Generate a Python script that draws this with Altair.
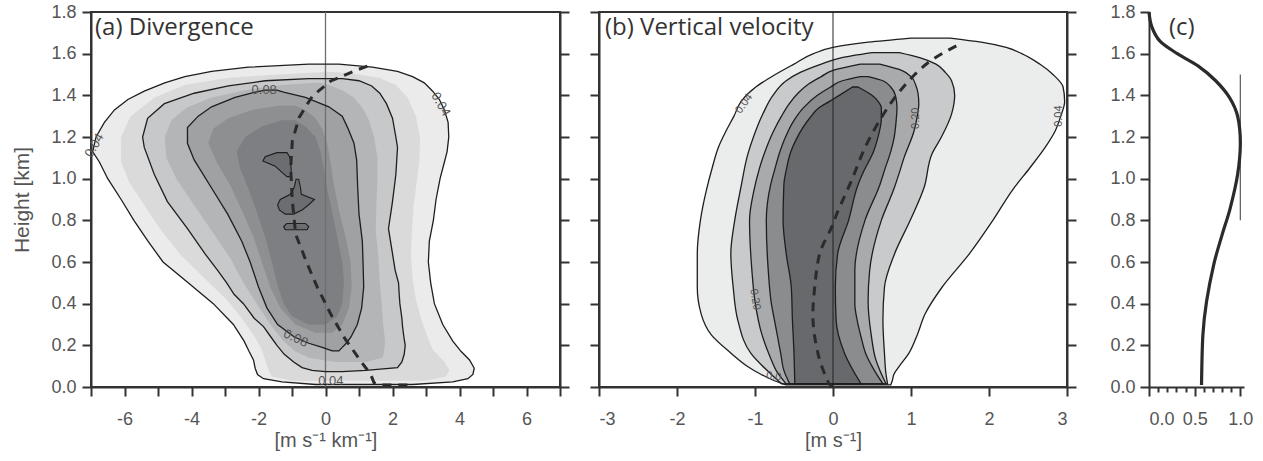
import altair as alt
import pandas as pd

# ---------------- shared ticks ----------------
Y_TICKS = [0.0, 0.2, 0.4, 0.6, 0.8, 1.0, 1.2, 1.4, 1.6, 1.8]
A_X_TICKS = [-7, -6, -5, -4, -3, -2, -1, 0, 1, 2, 3, 4, 5, 6, 7]
B_X_TICKS = [-3, -2, -1, 0, 1, 2, 3]
C_X_TICKS = [0.0, 0.1, 0.2, 0.3, 0.4, 0.5, 0.6, 0.7, 0.8, 0.9, 1.0]

# ---------------- panel (a) divergence: filled contour regions ----------------
a1_y = [0.012, 0.025, 0.04, 0.06, 0.09, 0.13, 0.17, 0.22, 0.30, 0.40, 0.50, 0.60, 0.70, 0.80,
        0.90, 1.00, 1.08, 1.13, 1.20, 1.27, 1.33, 1.38, 1.42, 1.46, 1.49, 1.515, 1.535, 1.55]
a1_l = [-0.3, -1.3, -1.85, -2.03, -2.1, -2.15, -2.28, -2.43, -2.75, -3.35, -4.1, -4.85, -5.3, -5.72,
        -6.1, -6.5, -6.75, -6.95, -6.85, -6.6, -6.3, -5.9, -5.41, -4.8, -4.2, -3.4, -2.3, -0.5]
a1_r = [2.6, 3.8, 4.25, 4.4, 4.44, 4.3, 4.05, 3.8, 3.5, 3.25, 3.14, 3.07, 3.1, 3.22,
        3.3, 3.42, 3.55, 3.63, 3.68, 3.66, 3.55, 3.4, 3.2, 2.95, 2.6, 2.15, 1.4, 0.4]

a2_y = [0.03, 0.05, 0.08, 0.12, 0.18, 0.25, 0.33, 0.42, 0.52, 0.63, 0.75, 0.87, 0.98, 1.08,
        1.2, 1.3, 1.39, 1.45, 1.485, 1.50, 1.512]
a2_l = [-1.0, -1.6, -1.7, -1.78, -1.9, -2.15, -2.5, -2.95, -3.6, -4.3, -4.9, -5.4, -5.85, -6.1,
        -6.1, -5.82, -5.1, -4.2, -2.9, -1.4, 0.0]
a2_r = [3.0, 3.6, 3.7, 3.55, 3.2, 3.02, 2.85, 2.7, 2.6, 2.55, 2.58, 2.63, 2.72, 2.8,
        2.82, 2.7, 2.45, 2.1, 1.6, 1.0, 0.3]

a3_y = [0.074, 0.08, 0.093, 0.12, 0.157, 0.2, 0.24, 0.29, 0.33, 0.4, 0.445, 0.5, 0.56, 0.64,
        0.76, 0.89, 1.02, 1.15, 1.2, 1.29, 1.36, 1.41, 1.445, 1.47, 1.48]
a3_l = [0.0, -0.4, -0.7, -0.95, -1.23, -1.45, -1.63, -1.85, -2.13, -2.45, -2.73, -2.95, -3.22, -3.6,
        -4.12, -4.72, -5.11, -5.41, -5.46, -5.31, -4.81, -3.92, -2.9, -1.8, -0.5]
a3_r = [0.5, 1.2, 2.15, 2.28, 2.35, 2.38, 2.34, 2.3, 2.28, 2.22, 2.2, 2.18, 2.08, 2.0,
        1.88, 2.0, 2.1, 2.15, 2.1, 2.0, 1.82, 1.62, 1.38, 1.0, 0.5]

a4_y = [0.12, 0.14, 0.17, 0.22, 0.3, 0.4, 0.5, 0.62, 0.75, 0.88, 1.0, 1.1, 1.2, 1.28,
        1.34, 1.39, 1.425, 1.45, 1.46]
a4_l = [0.3, -0.5, -0.9, -1.25, -1.65, -2.05, -2.45, -2.85, -3.4, -3.95, -4.45, -4.75, -4.8, -4.6,
        -4.15, -3.4, -2.4, -1.3, -0.3]
a4_r = [1.2, 1.7, 1.75, 1.78, 1.72, 1.68, 1.62, 1.58, 1.5, 1.52, 1.55, 1.55, 1.45, 1.3,
        1.1, 0.85, 0.5, 0.1, -0.2]

a5_y = [0.173, 0.19, 0.21, 0.24, 0.3, 0.38, 0.48, 0.6, 0.7, 0.83, 0.96, 1.09, 1.17, 1.245,
        1.3, 1.345, 1.39, 1.415, 1.425]
a5_l = [0.2, -0.1, -0.5, -0.93, -1.43, -1.75, -2.0, -2.25, -2.5, -2.92, -3.42, -3.92, -4.12, -4.12,
        -3.8, -3.4, -2.7, -2.1, -1.8]
a5_r = [0.4, 0.5, 0.62, 0.76, 0.95, 1.08, 1.14, 1.12, 1.1, 1.0, 0.96, 0.93, 0.85, 0.66,
        0.5, 0.1, -0.6, -1.25, -1.45]

a6_y = [0.26, 0.3, 0.38, 0.48, 0.6, 0.72, 0.85, 0.97, 1.08, 1.17, 1.24, 1.29, 1.33, 1.35]
a6_l = [-0.3, -0.9, -1.35, -1.65, -1.9, -2.15, -2.5, -2.85, -3.25, -3.5, -3.35, -2.9, -2.2, -1.4]
a6_r = [0.2, 0.5, 0.7, 0.78, 0.75, 0.6, 0.4, 0.25, 0.15, 0.05, -0.1, -0.3, -0.6, -0.9]

a7_y = [0.3, 0.34, 0.4, 0.5, 0.6, 0.72, 0.84, 0.95, 1.05, 1.13, 1.2, 1.25, 1.28]
a7_l = [-0.5, -1.0, -1.25, -1.45, -1.6, -1.8, -2.05, -2.3, -2.55, -2.65, -2.4, -1.9, -1.3]
a7_r = [0.0, 0.35, 0.5, 0.55, 0.5, 0.35, 0.2, 0.05, -0.05, -0.15, -0.3, -0.6, -0.9]

isl1_y = [1.01, 1.03, 1.06, 1.085, 1.105, 1.125]
isl1_l = [-1.15, -1.3, -1.5, -1.87, -1.8, -1.45]
isl1_r = [-1.02, -1.02, -1.03, -1.04, -1.07, -1.15]
isl2_y = [0.83, 0.85, 0.875, 0.9, 0.925, 0.96, 0.997]
isl2_l = [-1.2, -1.38, -1.43, -1.35, -1.05, -0.93, -0.88]
isl2_r = [-0.95, -0.7, -0.5, -0.33, -0.72, -0.75, -0.8]
isl3_y = [0.755, 0.77, 0.785]
isl3_l = [-1.2, -1.25, -1.15]
isl3_r = [-0.55, -0.5, -0.6]

a_dash_x = [1.25, 0.86, 0.16, -0.39, -0.79, -0.99, -1.04, -0.99, -0.89, -0.54, -0.24, 0.16, 0.56,
            1.05, 1.35, 1.45, 1.6, 2.6]
a_dash_y = [1.54, 1.517, 1.469, 1.397, 1.293, 1.181, 1.053, 0.893, 0.733, 0.589, 0.477, 0.349, 0.237,
            0.125, 0.06, 0.02, 0.01, 0.01]

a_lab_t = ["0.04", "0.04", "0.08", "0.08", "0.04"]
a_lab_x = [-6.9, 3.44, -1.83, -0.89, 0.16]
a_lab_y = [1.16, 1.357, 1.425, 0.234, 0.029]
a_lab_angle = [300, 60, 0, 25, 0]

# ---------------- panel (b) vertical velocity ----------------
b1_y = [0.01, 0.03, 0.06, 0.10, 0.16, 0.25, 0.35, 0.48, 0.64, 0.80, 0.95, 1.05, 1.15, 1.23,
        1.30, 1.37, 1.44, 1.50, 1.55, 1.60, 1.63, 1.655, 1.675]
b1_l = [-0.6, -0.75, -0.92, -1.1, -1.3, -1.56, -1.69, -1.74, -1.74, -1.7, -1.62, -1.55, -1.47, -1.37,
        -1.27, -1.18, -0.99, -0.74, -0.5, -0.25, 0.0, 0.45, 1.0]
b1_r = [0.74, 0.76, 0.78, 0.85, 0.97, 1.08, 1.18, 1.4, 1.75, 2.05, 2.31, 2.52, 2.72, 2.85,
        2.92, 2.97, 2.95, 2.82, 2.65, 2.42, 2.22, 1.9, 1.5]

b2_y = [0.015, 0.06, 0.16, 0.32, 0.48, 0.64, 0.80, 0.96, 1.12, 1.2, 1.31, 1.40, 1.47, 1.51,
        1.55, 1.58, 1.605]
b2_l = [-0.66, -0.79, -1.05, -1.22, -1.28, -1.31, -1.26, -1.18, -1.09, -1.02, -0.9, -0.77, -0.6, -0.42,
        -0.15, 0.1, 0.5]
b2_r = [0.70, 0.68, 0.66, 0.64, 0.66, 0.79, 0.99, 1.17, 1.27, 1.39, 1.52, 1.56, 1.52, 1.44,
        1.32, 1.12, 0.85]

b3_y = [0.015, 0.08, 0.13, 0.25, 0.41, 0.56, 0.80, 0.95, 1.04, 1.10, 1.23, 1.30, 1.36, 1.41,
        1.45, 1.49, 1.52, 1.55]
b3_l = [-0.6, -0.73, -0.79, -0.91, -1.0, -1.04, -1.07, -1.01, -0.95, -0.9, -0.76, -0.66, -0.56, -0.45,
        -0.33, -0.15, 0.0, 0.35]
b3_r = [0.68, 0.6, 0.55, 0.49, 0.45, 0.47, 0.62, 0.78, 0.86, 0.91, 1.04, 1.08, 1.1, 1.09,
        1.06, 1.0, 0.88, 0.6]

b4_y = [0.015, 0.08, 0.16, 0.24, 0.32, 0.40, 0.56, 0.80, 0.97, 1.04, 1.13, 1.19, 1.28, 1.34,
        1.40, 1.44, 1.47, 1.49]
b4_l = [-0.555, -0.63, -0.67, -0.71, -0.75, -0.79, -0.83, -0.855, -0.8, -0.75, -0.68, -0.62, -0.5, -0.38,
        -0.2, -0.03, 0.12, 0.35]
b4_r = [0.64, 0.53, 0.42, 0.36, 0.31, 0.28, 0.28, 0.41, 0.6, 0.66, 0.74, 0.78, 0.81, 0.82,
        0.8, 0.74, 0.64, 0.45]

b5_y = [0.015, 0.16, 0.32, 0.48, 0.64, 0.80, 0.97, 1.04, 1.13, 1.19, 1.29, 1.34, 1.37, 1.40, 1.44]
b5_l = [-0.49, -0.5, -0.52, -0.535, -0.6, -0.64, -0.63, -0.6, -0.54, -0.47, -0.3, -0.18, -0.05, 0.08, 0.25]
b5_r = [0.36, 0.15, 0.04, 0.03, 0.06, 0.2, 0.32, 0.4, 0.52, 0.57, 0.62, 0.62, 0.58, 0.5, 0.32]

b_dash_x = [0.0, -0.07, -0.19, -0.256, -0.235, -0.17, -0.02, 0.064, 0.235, 0.41, 0.62, 0.81, 1.03, 1.28, 1.62]
b_dash_y = [0.0, 0.03, 0.157, 0.317, 0.477, 0.64, 0.765, 0.845, 0.989, 1.149, 1.293, 1.397, 1.493, 1.573, 1.645]

b_lab_t = ["0.04", "0.20", "0.20", "0.04", "0.0"]
b_lab_x = [-1.14, -1.0, 1.06, 2.9, -0.76]
b_lab_y = [1.36, 0.42, 1.29, 1.3, 0.05]
b_lab_angle = [305, 80, 270, 270, 8]

# ---------------- panel (c) normalised profile ----------------
c_val = [0.575, 0.59, 0.63, 0.71, 0.80, 0.89, 0.97, 1.0, 0.97, 0.88, 0.73, 0.54, 0.31, 0.12, 0.03, 0.0]
c_h = [0.01, 0.25, 0.41, 0.59, 0.73, 0.86, 1.02, 1.17, 1.30, 1.39, 1.47, 1.54, 1.60, 1.66, 1.73, 1.8]
c_bar_x = [1.0]
c_bar_lo = [0.8]
c_bar_hi = [1.5]

# ---------------- styling ----------------
FONT = "Liberation Sans"
TFONT = "Open Sans"
TXT = "#555555"
INK = "#2b2b2b"
A_FILLS = ["#ebebeb", "#dadadb", "#c7c8c9", "#b4b5b7", "#a0a1a3", "#8e8f91", "#7e7f82"]
ISL_FILL = "#6c6d70"
B_FILLS = ["#ebecec", "#c9cacc", "#a9aaac", "#8b8c8e", "#68696c"]

H = 375
ys = alt.Scale(domain=[0, 1.8], nice=False, zero=False)
xsa = alt.Scale(domain=[-7, 7], nice=False, zero=False)
xsb = alt.Scale(domain=[-3, 3], nice=False, zero=False)
xsc = alt.Scale(domain=[0, 1.04], nice=False, zero=False)


def band(y, l, r):
    return pd.DataFrame({"y": y, "left": l, "right": r})


def fill_layer(df, xs, color, interp):
    return alt.Chart(df).mark_area(orient="horizontal", fill=color, interpolate=interp).encode(
        y=alt.Y("y:Q", scale=ys, axis=None),
        x=alt.X("left:Q", scale=xs, axis=None, stack=None),
        x2="right:Q",
    )


def line_layer(df, xs, interp, width=1.3):
    return alt.Chart(df).mark_area(orient="horizontal", fill="transparent", stroke="#1e1e1e",
                                   strokeWidth=width, interpolate=interp).encode(
        y=alt.Y("y:Q", scale=ys, axis=None),
        x=alt.X("left:Q", scale=xs, axis=None, stack=None),
        x2="right:Q",
    )


def path_layer(xv, yv, xs, **mk):
    df = pd.DataFrame({"x": xv, "y": yv, "o": list(range(len(xv)))})
    return alt.Chart(df).mark_line(**mk).encode(
        x=alt.X("x:Q", scale=xs, axis=None),
        y=alt.Y("y:Q", scale=ys, axis=None),
        order="o:Q",
    )


def label_layer(t, xv, yv, ang, xs, size):
    df = pd.DataFrame({"t": t, "x": xv, "y": yv, "a": ang})
    return alt.Chart(df).mark_text(font=FONT, fontSize=size, color=TXT).encode(
        x=alt.X("x:Q", scale=xs, axis=None),
        y=alt.Y("y:Q", scale=ys, axis=None),
        text="t:N",
        angle=alt.Angle("a:Q", scale=None),
    )


def title_layer(text, dx):
    return alt.Chart(pd.DataFrame({"t": [text]})).mark_text(
        font=TFONT, fontSize=24, color="#333333", align="left", baseline="alphabetic"
    ).encode(text="t:N", x=alt.value(dx), y=alt.value(23))


def zero_rule(xs, color, width):
    return alt.Chart(pd.DataFrame({"x": [0]})).mark_rule(color=color, strokeWidth=width).encode(
        x=alt.X("x:Q", scale=xs, axis=None))


def axis_holder(xs, xdom, xaxis, yaxis):
    df = pd.DataFrame({"x": xdom, "y": [0.0, 1.8]})
    return alt.Chart(df).mark_point(opacity=0).encode(
        x=alt.X("x:Q", scale=xs, axis=xaxis),
        y=alt.Y("y:Q", scale=ys, axis=yaxis),
    )


def right_axis(xs, xdom):
    df = pd.DataFrame({"x": xdom, "y": [0.0, 1.8]})
    return alt.Chart(df).mark_point(opacity=0).encode(
        x=alt.X("x:Q", scale=xs, axis=None),
        y=alt.Y("y:Q", scale=ys, axis=alt.Axis(orient="right", values=Y_TICKS, labels=False,
                                                title=None, tickSize=9)),
    )


left_axis_labeled = alt.Axis(values=Y_TICKS, format=".1f", title="Height [km]", tickSize=9,
                             labelPadding=6, titlePadding=18, titleFontSize=21)
left_axis_plain = alt.Axis(values=Y_TICKS, labels=False, title=None, tickSize=9)

# ---------------- panel (a) ----------------
xa_axis = alt.Axis(values=A_X_TICKS, labelExpr="datum.value % 2 == 0 ? '' + datum.value : ''",
                   title="[m s\u207b\u00b9 km\u207b\u00b9]", tickSize=9, labelPadding=14, titlePadding=2,
                   labelOverlap=False, orient="bottom", titleFontSize=20)
a_bands = [band(a1_y, a1_l, a1_r), band(a2_y, a2_l, a2_r), band(a3_y, a3_l, a3_r),
           band(a4_y, a4_l, a4_r), band(a5_y, a5_l, a5_r), band(a6_y, a6_l, a6_r),
           band(a7_y, a7_l, a7_r)]
islands = [band(isl1_y, isl1_l, isl1_r), band(isl2_y, isl2_l, isl2_r), band(isl3_y, isl3_l, isl3_r)]

a_layers = [axis_holder(xsa, [-7, 7], xa_axis, left_axis_labeled)]
for df, col in zip(a_bands, A_FILLS):
    a_layers.append(fill_layer(df, xsa, col, "linear"))
for df in islands:
    a_layers.append(fill_layer(df, xsa, ISL_FILL, "linear"))
a_layers.append(zero_rule(xsa, "#6e6e6e", 1.3))
for i in (0, 2, 4):
    a_layers.append(line_layer(a_bands[i], xsa, "linear"))
for df in islands:
    a_layers.append(line_layer(df, xsa, "linear", 1.1))
a_layers.append(path_layer(a_dash_x, a_dash_y, xsa, color=INK, strokeWidth=3, strokeDash=[9, 7]))
a_layers.append(label_layer(a_lab_t, a_lab_x, a_lab_y, a_lab_angle, xsa, 13))
a_layers.append(title_layer("(a) Divergence", 4))
a_layers.append(right_axis(xsa, [-7, 7]))

panel_a = alt.layer(*a_layers).resolve_axis(x="independent", y="independent").properties(
    width=469, height=H, view=alt.ViewBackground(stroke="#333333", strokeWidth=2))

# ---------------- panel (b) ----------------
xb_axis = alt.Axis(values=B_X_TICKS, labelExpr="'' + datum.value", title="[m s\u207b\u00b9]",
                   tickSize=9, labelPadding=14, titlePadding=2, labelOverlap=False, orient="bottom",
                   titleFontSize=20)
b_bands = [band(b1_y, b1_l, b1_r), band(b2_y, b2_l, b2_r), band(b3_y, b3_l, b3_r),
           band(b4_y, b4_l, b4_r), band(b5_y, b5_l, b5_r)]
b_layers = [axis_holder(xsb, [-3, 3], xb_axis, left_axis_plain)]
for df, col in zip(b_bands, B_FILLS):
    b_layers.append(fill_layer(df, xsb, col, "monotone"))
b_layers.append(zero_rule(xsb, "#222222", 1.0))
for df in b_bands:
    b_layers.append(line_layer(df, xsb, "monotone"))
b_layers.append(path_layer(b_dash_x, b_dash_y, xsb, color=INK, strokeWidth=3, strokeDash=[9, 7],
                           interpolate="cardinal"))
b_layers.append(label_layer(b_lab_t, b_lab_x, b_lab_y, b_lab_angle, xsb, 11))
b_layers.append(title_layer("(b) Vertical velocity", 6))
b_layers.append(right_axis(xsb, [-3, 3]))

panel_b = alt.layer(*b_layers).resolve_axis(x="independent", y="independent").properties(
    width=468, height=H, view=alt.ViewBackground(stroke="#333333", strokeWidth=2))

# ---------------- panel (c) ----------------
xc_axis = alt.Axis(values=C_X_TICKS, labelOverlap=False,
                   labelExpr="round(datum.value * 10) % 5 == 0 ? format(datum.value, '.1f') : ''",
                   title=None, labelPadding=14, orient="bottom",
                   tickSize={"condition": {"test": "round(datum.value * 10) % 5 == 0", "value": 9},
                             "value": 5})
yc_axis = alt.Axis(values=Y_TICKS, format=".1f", title=None, tickSize=9, labelPadding=5)
c_prof = pd.DataFrame({"v": c_val, "h": c_h, "o": list(range(len(c_val)))})
c_bar = pd.DataFrame({"x": c_bar_x, "lo": c_bar_lo, "hi": c_bar_hi})
c_layers = [
    axis_holder(xsc, [0.0, 1.04], xc_axis, yc_axis),
    alt.Chart(c_bar).mark_rule(color="#666666", strokeWidth=1.3).encode(
        x=alt.X("x:Q", scale=xsc, axis=None), y=alt.Y("lo:Q", scale=ys, axis=None), y2="hi:Q"),
    alt.Chart(c_prof).mark_line(color=INK, strokeWidth=3.2, interpolate="cardinal").encode(
        x=alt.X("v:Q", scale=xsc, axis=None), y=alt.Y("h:Q", scale=ys, axis=None), order="o:Q"),
    title_layer("(c)", 20),
]
panel_c = alt.layer(*c_layers).resolve_axis(x="independent", y="independent").properties(
    width=95, height=H)

ab = alt.hconcat(panel_a, panel_b, spacing=17)
chart = alt.hconcat(ab, panel_c, spacing=31).properties(
    padding={"left": 10, "top": 2, "right": 4, "bottom": 4}
).configure_view(stroke="transparent").configure_axis(
    grid=False, labelFont=FONT, labelFontSize=18, labelColor=TXT, titleFont=FONT, titleFontSize=18,
    titleColor=TXT, titleFontWeight="normal", domainColor="#333333", domainWidth=2,
    tickColor="#333333", tickWidth=2, zindex=1
)

chart.save("out.html", embed_options={"renderer": "svg", "actions": False})
